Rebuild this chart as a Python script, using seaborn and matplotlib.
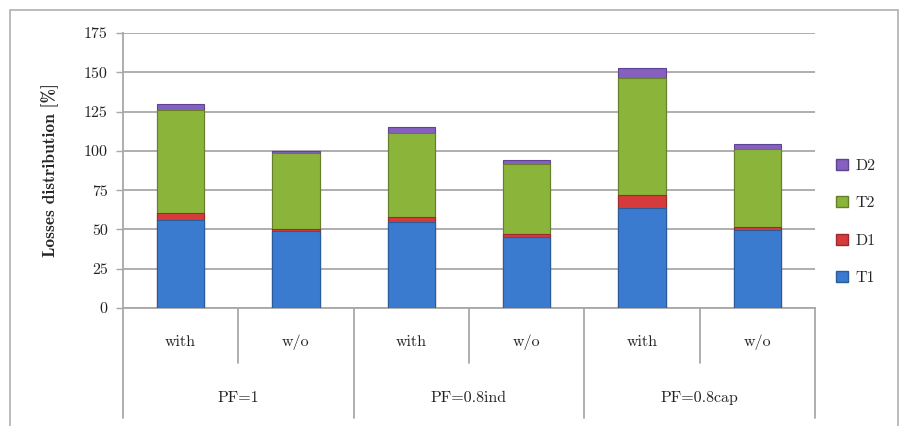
import matplotlib
matplotlib.use("Agg")
import matplotlib.pyplot as plt
import matplotlib.patches as mpatches
import seaborn as sns
import pandas as pd

# ---- data ----
groups = ["PF=1", "PF=0.8ind", "PF=0.8cap"]
subcats = ["with", "w/o"]
series = ["T1", "D1", "T2", "D2"]
T1 = [56.0, 49.2, 55.0, 45.4, 63.4, 49.6]
D1 = [4.2, 1.2, 2.7, 1.7, 8.5, 2.1]
T2 = [66.0, 48.0, 53.5, 44.6, 74.3, 49.3]
D2 = [3.5, 1.6, 4.2, 2.3, 6.3, 3.2]
yticks = [0, 25, 50, 75, 100, 125, 150, 175]

colors = {"T1": "#3a7bd0", "D1": "#d63b3b", "T2": "#8ab43a", "D2": "#8660c0"}
edge = {"T1": "#2a5c9c", "D1": "#9c2a2a", "T2": "#667f2b", "D2": "#5e4390"}

sns.set_theme(style="white")
plt.rcParams["font.family"] = ["cmr10", "DejaVu Serif"]
plt.rcParams["axes.formatter.use_mathtext"] = True

labels = [f"{g}|{s}" for g in groups for s in subcats]
vals = {"T1": T1, "D1": D1, "T2": T2, "D2": D2}
cum = {}
run = [0.0] * 6
for s in series:
    run = [r + v for r, v in zip(run, vals[s])]
    cum[s] = list(run)

fig = plt.figure(figsize=(9, 4.26), dpi=100)
ax = fig.add_axes([123 / 900, 1 - 308 / 426, (815 - 123) / 900, (308 - 33) / 426])

grid_c = "#a8a8a8"
for s in reversed(series):
    df = pd.DataFrame({"cat": labels, "val": cum[s]})
    sns.barplot(data=df, x="cat", y="val", ax=ax, color=colors[s], width=0.41,
                edgecolor=edge[s], linewidth=0.8, saturation=1, zorder=3)

ax.set_ylim(0, 175)
ax.set_xlim(-0.5, 5.5)
ax.set_yticks(yticks)
ax.set_yticklabels([str(t) for t in yticks], fontsize=11.5, color="#222222")
ax.yaxis.grid(True, color=grid_c, linewidth=1.3, zorder=0)
ax.set_axisbelow(True)
ax.tick_params(axis="y", length=5, width=1.0, color=grid_c, left=True, pad=6)
ax.tick_params(axis="x", bottom=False, labelbottom=False)
ax.set_xlabel("")
ax.set_ylabel("Losses distribution [%]", fontsize=12.5, family=["cmb10", "DejaVu Serif"],
              fontweight="bold", labelpad=18)
for sp in ["top", "right"]:
    ax.spines[sp].set_visible(False)
for sp in ["left", "bottom"]:
    ax.spines[sp].set_color(grid_c)
    ax.spines[sp].set_linewidth(1.3)

# multi-level category axis
tr = ax.get_xaxis_transform()
ybot_sub = -(363 - 308) / 275
ybot_grp = -(418 - 308) / 275
ax.plot([-0.5, -0.5], [0, ybot_grp], transform=tr, color=grid_c, lw=1.3, clip_on=False)
for i in range(6):
    xr = i + 0.5
    y_end = ybot_grp if i % 2 == 1 else ybot_sub
    ax.plot([xr, xr], [0, y_end], transform=tr, color=grid_c, lw=1.3, clip_on=False)
    ax.text(i, -(342 - 308) / 275, subcats[i % 2], transform=tr, ha="center", va="center",
            fontsize=11.5, color="#222222")
for j, g in enumerate(groups):
    ax.text(2 * j + 0.5, -(398 - 308) / 275, g, transform=tr, ha="center", va="center",
            fontsize=11.5, color="#222222")

# legend
handles = [mpatches.Patch(facecolor=colors[s], edgecolor=edge[s], label=s) for s in reversed(series)]
fig.legend(handles=handles, loc="center left", bbox_to_anchor=(822 / 900, 1 - 222 / 426),
           frameon=False, fontsize=11.5, handlelength=0.7, handleheight=0.7,
           labelspacing=1.45, handletextpad=0.5)

# outer frame
fig.patches.append(mpatches.Rectangle((10 / 900, -0.01), 888 / 900, 1 - 10 / 426 + 0.01,
                                      transform=fig.transFigure, fill=False,
                                      edgecolor="#b0b0b0", linewidth=1.2))

fig.savefig("out.png", dpi=100)
